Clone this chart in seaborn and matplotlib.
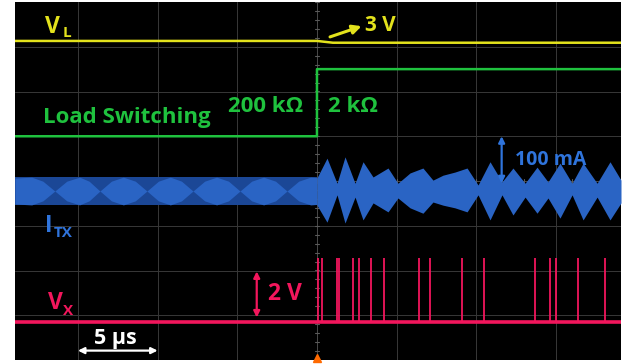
import numpy as np
import pandas as pd
import seaborn as sns
import matplotlib.pyplot as plt

# time axis in microseconds (5 us / div), vertical in scope divisions
t_left, t_right = -18.95, 19.08

# V_L (yellow) level before / after the load switch
vl_t = [t_left, 0.0, 1.0, t_right]
vl_y = [3.13, 3.13, 3.09, 3.09]

# Load switching (green) step
ls_t = [t_left, 0.0, 0.001, t_right]
ls_y = [1.0, 1.0, 2.5, 2.5]

# I_TX (blue) band before the switch
itx_center = -0.224
itx_half = 0.313
lens_t = [-18.95, -17.9, -17.2, -16.45, -15.7, -14.9, -14.3, -13.62, -12.9, -12.15,
          -11.4, -10.67, -9.95, -9.2, -8.5, -7.78, -7.05, -6.3, -5.55, -4.83,
          -4.1, -3.35, -2.6, -1.88, -1.15, -0.4, 0.0]
lens_h = [0.29, 0.31, 0.22, 0.0, 0.22, 0.31, 0.22, 0.0, 0.22, 0.31,
          0.22, 0.0, 0.22, 0.31, 0.22, 0.0, 0.22, 0.31, 0.22, 0.0,
          0.22, 0.31, 0.22, 0.0, 0.22, 0.31, 0.30]

# I_TX (blue) envelope after the switch
env_t = [0.0, 0.63, 1.26, 1.76, 2.39, 2.89, 3.52, 4.46, 5.08, 5.84, 6.65, 7.28,
         7.91, 8.66, 9.42, 10.11, 10.86, 11.61, 12.30, 13.06, 13.81, 14.50,
         15.25, 16.01, 16.70, 17.58, 18.39, 19.08]
env_top = [0.07, 0.51, -0.05, 0.54, -0.05, 0.43, 0.09, 0.29, -0.05, 0.18, 0.29, 0.02,
           0.13, 0.20, 0.29, -0.09, 0.43, -0.02, 0.29, -0.05, 0.31, -0.02,
           0.40, -0.05, 0.40, -0.05, 0.43, 0.02]
env_bot = [-0.54, -0.92, -0.31, -0.94, -0.36, -0.87, -0.49, -0.69, -0.38, -0.60, -0.72, -0.47,
           -0.54, -0.60, -0.69, -0.31, -0.87, -0.31, -0.76, -0.36, -0.72, -0.38,
           -0.83, -0.31, -0.87, -0.36, -0.87, -0.49]

# V_X (red) baseline and pulse times
vx_base = -3.14
vx_peak = -1.72
vx_pulses = [0.08, 0.33, 1.24, 1.38, 2.24, 2.64, 3.41, 4.21, 6.42, 7.09, 9.08,
             10.50, 13.68, 14.62, 15.00, 16.40, 18.08]

YELLOW = "#e3e21c"
GREEN = "#1fc23e"
BLUE = "#2a64c4"
BLUE_DARK = "#1b4796"
BLUE_TXT = "#2f74dc"
RED = "#f2165c"

sns.set_style("dark")
plt.rcParams["font.family"] = ["Open Sans", "DejaVu Sans"]

fig = plt.figure(figsize=(6.3, 3.64), dpi=100)
fig.patch.set_facecolor("white")
ax = fig.add_axes([15 / 630, 4 / 364, 606 / 630, 358 / 364])
ax.set_facecolor("black")
ax.set_xlim(t_left, t_right)
ax.set_ylim(-4, 4)
ax.set_xticks([])
ax.set_yticks([])
for s in ax.spines.values():
    s.set_visible(False)

# graticule
for gx in [-15, -10, -5, 5, 10, 15]:
    ax.axvline(gx, color="#383838", lw=0.7, zorder=0)
for gy in [-3, -2, -1, 1, 2, 3]:
    ax.axhline(gy, color="#383838", lw=0.7, zorder=0)
ax.axvline(0, color="#4a4a4a", lw=0.7, zorder=0)
ax.axhline(0, color="#4a4a4a", lw=0.7, zorder=0)
for yy in np.arange(-4, 4.01, 0.2):
    ax.plot([-0.12, 0.12], [yy, yy], color="#5a5a5a", lw=0.8, zorder=0)
for xx in np.arange(-18, 19.01, 1.0):
    ax.plot([xx, xx], [-0.04, 0.04], color="#5a5a5a", lw=0.8, zorder=0)

# yellow and green traces
df_vl = pd.DataFrame({"t": vl_t, "y": vl_y})
df_ls = pd.DataFrame({"t": ls_t, "y": ls_y})
sns.lineplot(data=df_vl, x="t", y="y", ax=ax, color=YELLOW, lw=1.8,
             estimator=None, sort=False, zorder=3)
sns.lineplot(data=df_ls, x="t", y="y", ax=ax, color=GREEN, lw=1.8,
             estimator=None, sort=False, zorder=3)
ax.set_xlabel("")
ax.set_ylabel("")

# blue current band
tl = np.array(lens_t)
hl = np.array(lens_h)
ax.fill_between([t_left, 0.0], itx_center - itx_half, itx_center + itx_half,
                color=BLUE_DARK, lw=0, zorder=2)
ax.fill_between(tl, itx_center - hl, itx_center + hl, color=BLUE, lw=0, zorder=2)
ax.fill_between(env_t, env_bot, env_top, color=BLUE, lw=0, zorder=2)

# red trace
ax.axhline(vx_base, color=RED, lw=2.6, zorder=3)
ax.vlines(vx_pulses, vx_base, vx_peak, color=RED, lw=1.3, zorder=3)

# trigger marker
ax.plot([0], [-3.96], marker="^", color="#ff6a00", ms=6, clip_on=False, zorder=4)

# labels
fw = "bold"
arrow_kw = dict(lw=1.6, mutation_scale=9, shrinkA=0, shrinkB=0)
ax.text(-17.07, 3.31, "V", color=YELLOW, fontsize=16.5, fontweight=fw)
ax.text(-15.95, 3.21, "L", color=YELLOW, fontsize=11, fontweight=fw)
ax.annotate("", xy=(2.8, 3.46), xytext=(0.82, 3.22),
            arrowprops=dict(arrowstyle="-|>", color=YELLOW, lw=2.2,
                            mutation_scale=13, shrinkA=0, shrinkB=0))
ax.text(3.01, 3.35, "3 V", color=YELLOW, fontsize=15, fontweight=fw)

ax.text(-17.2, 1.29, "Load Switching", color=GREEN, fontsize=16, fontweight=fw)
ax.text(-5.59, 1.55, "200 k\u03a9", color=GREEN, fontsize=16, fontweight=fw)
ax.text(0.69, 1.55, "2 k\u03a9", color=GREEN, fontsize=16, fontweight=fw)

ax.annotate("", xy=(11.59, 1.0), xytext=(11.59, -0.05),
            arrowprops=dict(arrowstyle="<|-|>", color=BLUE_TXT, **arrow_kw))
ax.text(12.43, 0.36, "100 mA", color=BLUE_TXT, fontsize=14, fontweight=fw)
ax.text(-17.07, -1.13, "I", color=BLUE_TXT, fontsize=16.5, fontweight=fw)
ax.text(-16.53, -1.26, "TX", color=BLUE_TXT, fontsize=11, fontweight=fw)

ax.annotate("", xy=(-3.78, -2.02), xytext=(-3.78, -3.05),
            arrowprops=dict(arrowstyle="<|-|>", color=RED, **arrow_kw))
ax.text(-3.06, -2.66, "2 V", color=RED, fontsize=16.5, fontweight=fw)
ax.text(-16.9, -2.85, "V", color=RED, fontsize=16.5, fontweight=fw)
ax.text(-15.95, -2.99, "X", color=RED, fontsize=11, fontweight=fw)

ax.annotate("", xy=(-10.0, -3.79), xytext=(-15.0, -3.79),
            arrowprops=dict(arrowstyle="<|-|>", color="white", **arrow_kw))
ax.text(-13.97, -3.64, "5 \u00b5s", color="white", fontsize=15.5, fontweight=fw)

fig.savefig("out.png", dpi=100, facecolor="white")
